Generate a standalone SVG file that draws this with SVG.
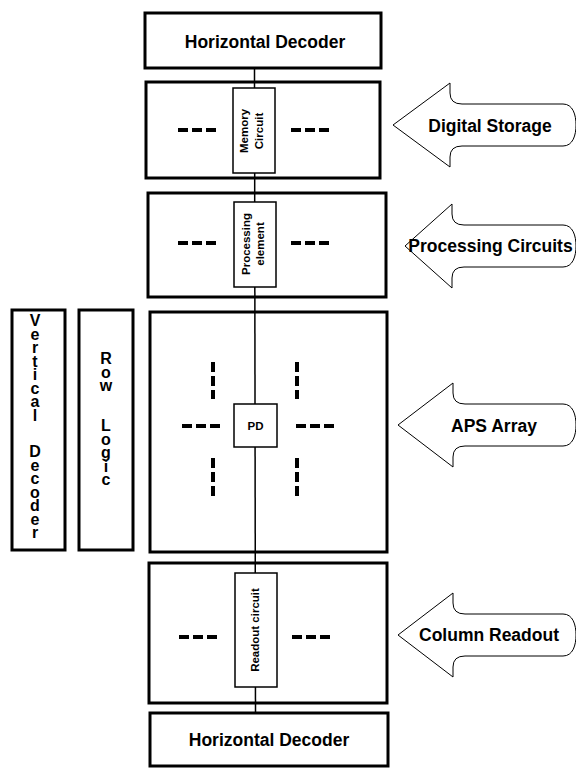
<svg xmlns="http://www.w3.org/2000/svg" width="576" height="769" viewBox="0 0 576 769">
<style>
.box{fill:#fff;stroke:#000;stroke-width:3}
.frame{fill:none;stroke:#000;stroke-width:3}
.cell{fill:#fff;stroke:#000;stroke-width:1.5}
.arrow{fill:#fff;stroke:#000;stroke-width:1}
.dash{stroke:#000;stroke-width:4;stroke-dasharray:10 4;fill:none}
.wire{stroke:#000;stroke-width:1.5;fill:none}
text{font-family:"Liberation Sans",Arial,sans-serif;font-weight:bold;fill:#000}
.lbl{font-size:17.5px}
.sm{font-size:11.5px}
.vert{font-size:16px;writing-mode:vertical-rl;text-orientation:upright;letter-spacing:-3.5px}
</style>
<rect width="576" height="769" fill="#fff"/>
<g id="connectors">
<line class="wire" x1="254.5" y1="68" x2="255.5" y2="713"/>
</g>
<g id="hdec-top">
<rect class="box" x="145" y="13" width="236" height="55"/>
<text class="lbl" x="265" y="48" text-anchor="middle">Horizontal Decoder</text>
</g>
<g id="digital-storage-block">
<rect class="frame" x="146" y="82" width="234" height="96"/>
<line class="dash" x1="178" y1="130" x2="216" y2="130"/>
<line class="dash" x1="291" y1="130" x2="329" y2="130"/>
</g>
<g id="memory-circuit">
<rect class="cell" x="233" y="88" width="42" height="85"/>
<text class="sm" transform="translate(254,131) rotate(-90)" text-anchor="middle"><tspan x="0" y="-6">Memory</tspan><tspan x="0" y="9">Circuit</tspan></text>
</g>
<g id="processing-block">
<rect class="frame" x="148" y="193" width="238" height="104"/>
<line class="dash" x1="178" y1="243" x2="216" y2="243"/>
<line class="dash" x1="291" y1="243" x2="329" y2="243"/>
</g>
<g id="processing-element">
<rect class="cell" x="234" y="202" width="42" height="85"/>
<text class="sm" transform="translate(254,244) rotate(-90)" text-anchor="middle"><tspan x="0" y="-4">Processing</tspan><tspan x="0" y="10">element</tspan></text>
</g>
<g id="aps-block">
<rect class="frame" x="150" y="312" width="237" height="240"/>
<line class="dash" x1="182" y1="426" x2="221" y2="426"/>
<line class="dash" x1="296" y1="426" x2="334" y2="426"/>
<line class="dash" x1="213" y1="362" x2="213" y2="399"/>
<line class="dash" x1="213" y1="458" x2="213" y2="496"/>
<line class="dash" x1="297" y1="362" x2="297" y2="399"/>
<line class="dash" x1="297" y1="458" x2="297" y2="496"/>
</g>
<g id="pd">
<rect class="cell" x="234" y="404" width="43" height="43"/>
<text class="sm" x="255.5" y="430" text-anchor="middle">PD</text>
</g>
<g id="readout-block">
<rect class="frame" x="149" y="563" width="238" height="140"/>
<line class="dash" x1="179" y1="637" x2="217" y2="637"/>
<line class="dash" x1="292" y1="637" x2="330" y2="637"/>
</g>
<g id="readout-circuit">
<rect class="cell" x="235" y="573" width="42" height="114"/>
<text class="sm" transform="translate(255,630) rotate(-90)" text-anchor="middle" y="4">Readout circuit</text>
</g>
<g id="hdec-bottom">
<rect class="box" x="150" y="713" width="238" height="53"/>
<text class="lbl" x="269" y="746" text-anchor="middle">Horizontal Decoder</text>
</g>
<g id="vertical-decoder">
<rect class="box" x="12" y="310" width="53" height="240"/>
<text class="vert" x="35" y="312">Vertical</text>
<text class="vert" x="35" y="443">Decoder</text>
</g>
<g id="row-logic">
<rect class="box" x="79" y="310" width="54" height="240"/>
<text class="vert" x="106" y="350">Row</text>
<text class="vert" x="106" y="417">Logic</text>
</g>
<g id="arrow-digital-storage">
<path class="arrow" d="M393,125 L450,83 L450,93 Q450,104 462,104 L563,104 C573,104 576,115 576,125 C576,135 573,146 563,146 L462,146 Q450,146 450,157 L450,167 Z"/>
<text class="lbl" x="490" y="132" text-anchor="middle">Digital Storage</text>
</g>
<g id="arrow-processing">
<path class="arrow" d="M405,246 L452,204 L452,214 Q452,225 464,225 L563,225 C573,225 576,236 576,246 C576,256 573,267 563,267 L464,267 Q452,267 452,278 L452,288 Z"/>
<text class="lbl" x="490.5" y="252" text-anchor="middle">Processing Circuits</text>
</g>
<g id="arrow-aps">
<path class="arrow" d="M398,425 L453,383 L453,393 Q453,404 465,404 L563,404 C573,404 576,415 576,425 C576,435 573,446 563,446 L465,446 Q453,446 453,457 L453,467 Z"/>
<text class="lbl" x="494" y="432" text-anchor="middle">APS Array</text>
</g>
<g id="arrow-column-readout">
<path class="arrow" d="M398,635 L453,593 L453,603 Q453,614 465,614 L563,614 C573,614 576,625 576,635 C576,645 573,656 563,656 L465,656 Q453,656 453,667 L453,677 Z"/>
<text class="lbl" x="489" y="641" text-anchor="middle">Column Readout</text>
</g>
</svg>
